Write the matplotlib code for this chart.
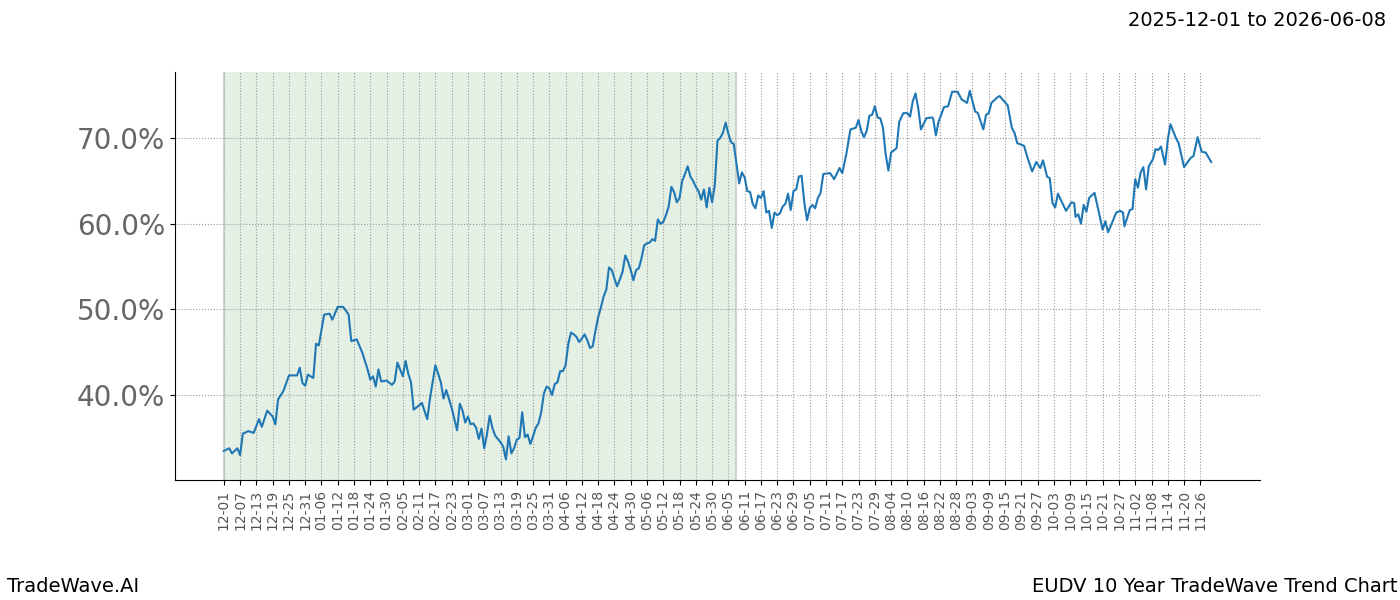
import matplotlib
matplotlib.use("Agg")
import matplotlib.pyplot as plt
import matplotlib.dates as mdates
import pandas as pd
import numpy as np

start = pd.Timestamp("2025-12-01")
shade_end = pd.Timestamp("2026-06-08")

day_offsets = [0,2,3,5,6,7,9,11,13,14,16,18,19,20,22,24,27,28,29,30,31,33,34,35,37,39,40,42,44,46,47,49,51,53,54,55,56,57,58,60,62,63,64,66,67,68,69,70,72,73,75,76,78,80,81,82,84,86,87,88,89,90,91,92,93,94,95,96,97,98,99,100,102,103,104,105,106,107,108,109,110,111,112,113,114,115,116,117,118,119,120,121,122,123,124,125,126,127,128,129,130,131,132,133,134,135,136,137,138,139,140,141,142,143,144,145,146,147,148,149,150,151,152,153,154,155,156,157,158,159,160,161,162,163,164,165,166,167,168,169,170,171,172,173,174,175,176,177,178,179,180,181,182,183,184,185,186,187,188,189,190,191,192,193,194,195,196,197,198,199,200,201,202,203,204,205,206,207,208,209,210,211,212,213,214,215,216,217,218,219,220,221,223.5,225,227,228,229.6,231,233,234,235,236,237,238,239,240,241,242,243,244,245,246,248,249,250.5,252,253,254,255,256,257,259,261,261.5,262.5,263.5,265.5,267,268.5,270.5,272,273,274,275,277,278,280,281,282,283,285,286,289,290.5,291.5,292.5,295,296.5,298,299.5,301,302,303.5,304.5,305.5,306.5,307.5,310.5,312.5,313.5,314,315,316,317,318,319,321,324,325,326,329,330.5,331.5,332,334,335,336,337,338,339,340,341,342.5,343.5,344.5,345.5,347,348,349,351,352,354,356.5,357.5,359,360.5,362,364]
values = [33.5,33.8,33.2,33.8,33.0,35.5,35.8,35.6,37.2,36.3,38.2,37.5,36.6,39.5,40.5,42.3,42.3,43.2,41.4,41.1,42.4,42.0,46.0,45.8,49.4,49.5,48.8,50.3,50.3,49.4,46.3,46.5,45.0,43.0,41.8,42.2,41.0,43.0,41.6,41.7,41.2,41.6,43.8,42.2,44.0,42.5,41.5,38.3,38.8,39.1,37.2,39.6,43.5,41.5,39.6,40.6,38.5,35.9,39.0,38.2,36.8,37.5,36.6,36.7,36.2,34.9,36.1,33.8,35.4,37.6,36.2,35.3,34.5,34.0,32.5,35.2,33.2,33.8,34.8,35.0,38.0,35.1,35.4,34.3,35.2,36.2,36.7,38.0,40.2,41.0,40.8,40.0,41.3,41.5,42.8,42.8,43.5,46.0,47.3,47.1,46.8,46.2,46.6,47.1,46.4,45.5,45.7,47.5,49.1,50.2,51.5,52.3,54.9,54.6,53.6,52.7,53.5,54.4,56.3,55.6,54.6,53.4,54.6,54.8,56.0,57.5,57.7,57.8,58.2,58.0,60.5,60.0,60.2,61.0,62.0,64.3,63.7,62.5,63.0,65.0,65.8,66.7,65.5,65.0,64.3,63.8,62.8,64.0,61.9,64.2,62.5,64.5,69.7,70.0,70.6,71.8,70.5,69.5,69.3,67.0,64.7,66.0,65.4,63.8,63.7,62.3,61.8,63.3,63.0,63.8,61.3,61.5,59.5,61.3,61.0,61.2,62.0,62.3,63.5,61.6,63.8,64.0,65.5,65.6,62.5,60.4,61.8,62.2,61.8,63.0,63.6,65.8,65.9,65.2,66.5,65.9,68.3,71.0,71.2,72.1,70.8,70.1,70.8,72.6,72.7,73.7,72.4,72.3,71.2,68.1,66.2,68.3,68.8,71.9,72.9,72.9,72.5,74.3,75.2,73.5,71.0,72.3,72.4,72.3,70.3,71.9,73.6,73.7,75.4,75.4,74.5,74.3,74.1,75.5,73.1,72.9,71.0,72.7,72.9,74.1,74.7,74.9,73.8,71.2,70.6,69.4,69.1,67.5,66.1,67.2,66.5,67.4,65.5,65.3,62.4,61.9,63.5,61.5,62.5,62.4,60.8,61.1,60.0,62.2,61.4,63.0,63.6,59.3,60.3,59.0,61.3,61.5,61.3,59.7,61.6,61.7,65.2,64.2,66.0,66.6,64.0,66.7,67.5,68.7,68.6,69.0,66.9,69.8,71.6,70.0,69.4,66.6,67.7,67.9,70.1,68.4,68.3,67.2]

dates = start + pd.to_timedelta(np.array(day_offsets), unit="D")
tick_dates = pd.date_range(start, "2026-11-26", freq="6D")

fig = plt.figure(figsize=(14, 6), dpi=100)
ax = fig.add_axes([0.125, 0.2, 0.775, 0.68])
ax.axvspan(start, shade_end, color="#2e8b2e", alpha=0.12, lw=0)
ax.axvline(start, color="#bbbbbb", lw=1.5, alpha=0.6)
ax.axvline(shade_end, color="#bbbbbb", lw=1.5, alpha=0.6)
ax.plot(dates, values, color="#1f77b4", lw=1.5)

ax.set_xticks(tick_dates)
ax.set_xticklabels([d.strftime("%m-%d") for d in tick_dates], rotation=90, fontsize=10, color="#555555")
ax.set_yticks([40, 50, 60, 70])
ax.set_yticklabels([f"{v:.1f}%" for v in [40, 50, 60, 70]], fontsize=20, color="#666666")
ax.set_ylim(30.1, 77.7)
ax.set_xlim(start - pd.Timedelta(days=18), start + pd.Timedelta(days=382))
ax.grid(True, color="#999999", linestyle=":", lw=0.8)
for s in ["top", "right"]:
    ax.spines[s].set_visible(False)

fig.text(0.99, 0.965, "2025-12-01 to 2026-06-08", ha="right", va="center", fontsize=14)
fig.text(0.005, 0.022, "TradeWave.AI", ha="left", va="center", fontsize=14)
fig.text(0.998, 0.022, "EUDV 10 Year TradeWave Trend Chart", ha="right", va="center", fontsize=14)
fig.savefig("out.png")
